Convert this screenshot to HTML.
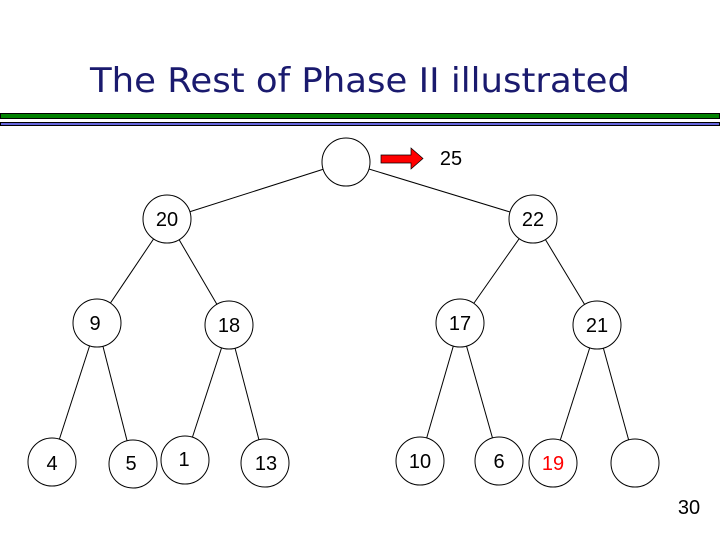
<!DOCTYPE html>
<html><head><style>
html,body{margin:0;padding:0;background:#fff;}
svg{display:block;}
</style></head><body>
<svg width="720" height="540" viewBox="0 0 720 540" xmlns="http://www.w3.org/2000/svg">
<text x="90" y="92" textLength="540" lengthAdjust="spacingAndGlyphs" font-family="'Comic Sans MS','DejaVu Sans',sans-serif" font-size="34" fill="#1a1a6e">The Rest of Phase II illustrated</text>
<rect x="0.5" y="113.5" width="719" height="5" fill="#008000" stroke="#000" stroke-width="1"/>
<rect x="0.5" y="122.5" width="719" height="3" fill="#6666dd" stroke="#000" stroke-width="1"/>
<g stroke="#000" stroke-width="1">
<line x1="346" y1="162" x2="167" y2="219"/>
<line x1="346" y1="162" x2="533" y2="219"/>
<line x1="167" y1="219" x2="97" y2="323"/>
<line x1="167" y1="219" x2="229" y2="325"/>
<line x1="533" y1="219" x2="460" y2="323"/>
<line x1="533" y1="219" x2="597" y2="325"/>
<line x1="97" y1="323" x2="52" y2="462"/>
<line x1="97" y1="323" x2="133" y2="464"/>
<line x1="229" y1="325" x2="185" y2="460"/>
<line x1="229" y1="325" x2="265" y2="463"/>
<line x1="460" y1="323" x2="420" y2="461"/>
<line x1="460" y1="323" x2="499" y2="461"/>
<line x1="597" y1="325" x2="553" y2="463"/>
<line x1="597" y1="325" x2="635" y2="463"/>
</g>
<g fill="#fff" stroke="#000" stroke-width="1">
<ellipse cx="346" cy="162" rx="24" ry="24"/>
<circle cx="167" cy="219" r="24"/>
<circle cx="533" cy="219" r="24"/>
<circle cx="97" cy="323" r="24"/>
<circle cx="229" cy="325" r="24"/>
<circle cx="460" cy="323" r="24"/>
<circle cx="597" cy="325" r="24"/>
<circle cx="52" cy="462" r="24"/>
<circle cx="133" cy="464" r="24"/>
<circle cx="185" cy="460" r="24"/>
<circle cx="265" cy="463" r="24"/>
<circle cx="420" cy="461" r="24"/>
<circle cx="499" cy="461" r="24"/>
<circle cx="553" cy="463" r="24"/>
<circle cx="635" cy="463" r="24"/>
</g>
<polygon points="381,155 411,155 411,148 423,158.5 411,169 411,163 381,163" fill="#ff0000" stroke="#000" stroke-width="0.7"/>
<g font-family="'Liberation Sans',sans-serif" font-size="20" fill="#000" text-anchor="middle">
<text x="451" y="165">25</text>
<text x="167" y="226">20</text>
<text x="533" y="226">22</text>
<text x="95" y="330">9</text>
<text x="229" y="332">18</text>
<text x="460" y="330">17</text>
<text x="597" y="332">21</text>
<text x="52" y="470">4</text>
<text x="131" y="470">5</text>
<text x="184" y="466">1</text>
<text x="266" y="470">13</text>
<text x="420" y="468">10</text>
<text x="499" y="468">6</text>
<text x="553" y="470" fill="#ff0000">19</text>
<text x="689" y="514">30</text>
</g>
</svg>
</body></html>
